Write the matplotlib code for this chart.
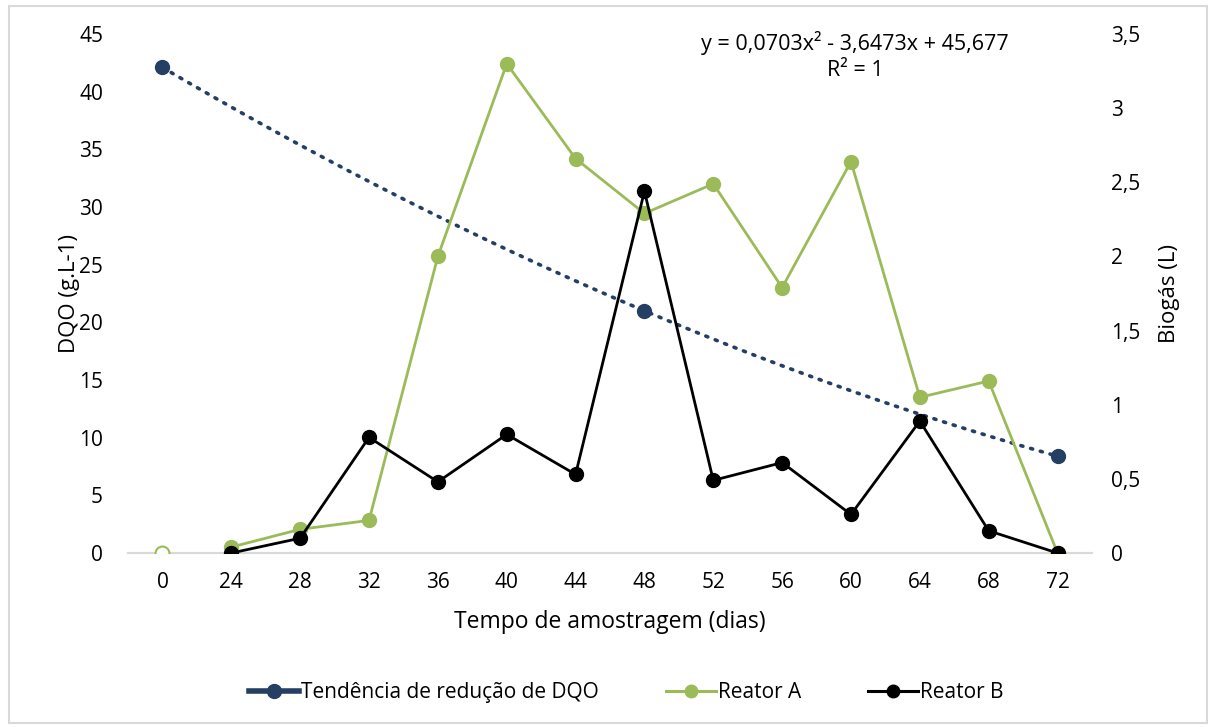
"""DQO trend and biogas production per reactor (dual axis)."""
import matplotlib
matplotlib.use("Agg")
import matplotlib.pyplot as plt
import numpy as np
from matplotlib.lines import Line2D
from matplotlib.patches import Rectangle
from matplotlib.ticker import FuncFormatter, MultipleLocator

plt.rcParams["font.family"] = ["Open Sans", "DejaVu Sans"]

DAYS = ["0", "24", "28", "32", "36", "40", "44", "48", "52", "56", "60", "64", "68", "72"]

# DQO (g/L) measured only at day 0, 48 and 72
DQO = [42.1, np.nan, np.nan, np.nan, np.nan, np.nan, np.nan, 21.0,
       np.nan, np.nan, np.nan, np.nan, np.nan, 8.4]

# biogas (L)
REATOR_A = [0.0, 0.04, 0.16, 0.22, 2.0, 3.30, 2.66, 2.29, 2.49, 1.79, 2.64, 1.05, 1.16, 0.0]
REATOR_B = [np.nan, 0.0, 0.10, 0.78, 0.48, 0.80, 0.53, 2.44, 0.49, 0.61, 0.26, 0.89, 0.15, 0.0]

C_DQO = "#243F63"
C_A = "#9BBB59"
C_B = "#000000"

fig = plt.figure(figsize=(12.16, 7.27), dpi=100)
ax = fig.add_axes([0.1053, 0.2393, 0.7927, 0.7139])
ax2 = ax.twinx()

x = np.arange(len(DAYS))

# trend: 2nd order polynomial fit on the DQO points (excel x = 1..n)
dq = np.array(DQO)
mask = ~np.isnan(dq)
coef = np.polyfit(x[mask] + 1, dq[mask], 2)
xs = np.linspace(x[0], x[-1], 300)
ax.plot(xs, np.polyval(coef, xs + 1), color=C_DQO, lw=2.6, ls=(0, (0.6, 2.2)),
        dash_capstyle="round", zorder=2)
ax.plot(x[mask], dq[mask], "o", color=C_DQO, ms=10, zorder=3)

# reactors on secondary axis
ax2.plot(x[1:], REATOR_A[1:], "-o", color=C_A, lw=2.0, ms=10, zorder=3)
ax2.plot(x[:1], REATOR_A[:1], "o", mfc="white", mec=C_A, mew=1.5, ms=10, zorder=3)
ax2.plot(x, REATOR_B, "-o", color=C_B, lw=2.0, ms=10, zorder=4)

ax.set_xlim(-0.5, len(DAYS) - 0.5)
ax.set_ylim(0, 45)
ax2.set_ylim(0, 3.5)
ax.yaxis.set_major_locator(MultipleLocator(5))
ax2.yaxis.set_major_locator(MultipleLocator(0.5))
ax2.yaxis.set_major_formatter(FuncFormatter(lambda v, p: f"{v:g}".replace(".", ",")))

ax.set_xticks(x)
ax.set_xticklabels(DAYS)

for a in (ax, ax2):
    for s in ("top", "left", "right"):
        a.spines[s].set_visible(False)
    a.spines["bottom"].set_color("#D9D9D9")
    a.spines["bottom"].set_linewidth(1.5)
    a.tick_params(length=0, labelsize=15, colors="black")
ax.tick_params(axis="y", pad=18)
ax.tick_params(axis="x", pad=14)
ax2.tick_params(axis="y", pad=14)

ax.set_xlabel("Tempo de amostragem (dias)", fontsize=16.5, labelpad=12)
ax.set_ylabel("DQO (g.L-1)", fontsize=16)
ax2.set_ylabel("Biogás (L)", fontsize=16)
ax.yaxis.set_label_coords(-0.05, 0.5)
ax2.yaxis.set_label_coords(1.07, 0.5)

ax.text(0.754, 1.005, "y = 0,0703x² - 3,6473x + 45,677\nR² = 1", transform=ax.transAxes,
        ha="center", va="top", fontsize=15.5, linespacing=1.3)

handles = [
    Line2D([], [], color=C_DQO, lw=4, marker="o", ms=10),
    Line2D([], [], color=C_A, lw=2.2, marker="o", ms=9),
    Line2D([], [], color=C_B, lw=2.2, marker="o", ms=9),
]
fig.legend(handles, ["Tendência de redução de DQO", "Reator A", "Reator B"],
           loc="center", bbox_to_anchor=(0.515, 0.047), ncol=3, frameon=False,
           fontsize=15, handlelength=2.4, handletextpad=0.1, columnspacing=3.2)

fig.patches.append(Rectangle((0.007, 0.005), 0.986, 0.987, transform=fig.transFigure,
                             fill=False, edgecolor="#D9D9D9", lw=1.5))

fig.savefig("out.png", dpi=100)
